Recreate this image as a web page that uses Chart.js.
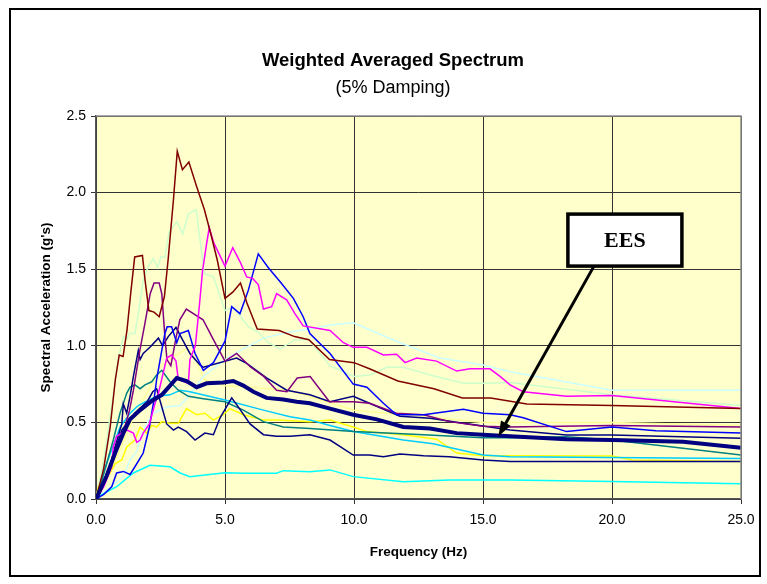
<!DOCTYPE html>
<html>
<head>
<meta charset="utf-8">
<title>Weighted Averaged Spectrum</title>
<script src="https://cdn.jsdelivr.net/npm/chart.js@4.4.1/dist/chart.umd.min.js"></script>
<style>
    html, body { margin: 0; padding: 0; background: #fff; }
    #wrap { width: 767px; height: 584px; }
</style>
</head>
<body>
<div id="wrap"><canvas id="spectrum" width="767" height="584"></canvas></div>
<script>
// frequency (Hz) / spectral acceleration (g), one pair per record
const eesF = [0, 0.41, 0.74, 1.06, 1.32, 1.71, 2.16, 2.55, 2.87, 3.13, 3.51, 3.9, 4.29, 4.93, 5.32, 5.71, 6.1, 6.61, 7.26, 7.78, 8.29, 9.07, 9.97, 10.88, 11.91, 12.95, 13.98, 15.0, 16.05, 18.24, 20.0, 22.76, 25.0];
const eesA = [0, 0.15, 0.30, 0.43, 0.52, 0.58, 0.64, 0.68, 0.74, 0.79, 0.77, 0.73, 0.755, 0.76, 0.77, 0.74, 0.70, 0.66, 0.65, 0.635, 0.625, 0.59, 0.55, 0.52, 0.47, 0.46, 0.43, 0.42, 0.41, 0.39, 0.385, 0.374, 0.335];

const darkRedF = [0, 0.3, 0.55, 0.75, 0.9, 1.05, 1.2, 1.35, 1.5, 1.8, 1.9, 2.05, 2.25, 2.45, 2.65, 2.8, 3.0, 3.15, 3.35, 3.6, 3.9, 4.2, 4.45, 4.7, 5.0, 5.3, 5.6, 5.85, 6.25, 7.1, 7.7, 8.25, 9.05, 10.0, 10.6, 11.7, 13.1, 14.2, 15.3, 16.7, 20.0, 25.0];
const darkRedA = [0, 0.2, 0.47, 0.78, 0.94, 0.93, 1.10, 1.35, 1.58, 1.59, 1.43, 1.23, 1.22, 1.19, 1.32, 1.57, 1.95, 2.27, 2.15, 2.20, 2.04, 1.89, 1.73, 1.56, 1.31, 1.35, 1.41, 1.28, 1.11, 1.10, 1.06, 1.04, 0.91, 0.89, 0.85, 0.77, 0.72, 0.66, 0.66, 0.62, 0.61, 0.59];

const mintF = [0, 0.3, 0.6, 0.86, 1.06, 1.19, 1.29, 1.51, 1.68, 1.83, 2.03, 2.22, 2.39, 2.51, 2.67, 2.84, 3.13, 3.36, 3.58, 3.88, 4.2, 4.55, 5.0, 5.32, 5.65, 5.9, 6.29, 6.68, 7.13, 7.71, 8.25, 9.07, 10.0, 10.62, 11.27, 11.91, 12.95, 14.24, 15.0, 16.05, 20.0, 25.0];
const mintA = [0, 0.25, 0.6, 0.91, 1.06, 1.04, 1.08, 1.08, 1.25, 1.43, 1.52, 1.57, 1.51, 1.58, 1.58, 1.745, 1.81, 1.73, 1.86, 1.89, 1.47, 1.45, 1.23, 1.25, 1.18, 1.125, 1.09, 1.02, 0.98, 1.04, 1.04, 0.87, 0.80, 0.81, 0.86, 0.86, 0.81, 0.755, 0.755, 0.76, 0.68, 0.61];

const magentaF = [0, 0.3, 0.61, 0.67, 0.8, 1.2, 1.45, 1.58, 1.71, 1.83, 2.07, 2.29, 2.42, 2.74, 2.93, 3.1, 3.19, 3.58, 3.64, 3.85, 4.0, 4.13, 4.29, 4.39, 4.57, 5.0, 5.3, 5.58, 5.84, 6.07, 6.29, 6.49, 6.81, 7.0, 7.39, 7.71, 8.03, 9.07, 9.59, 9.97, 10.5, 11.14, 11.65, 11.98, 12.43, 13.2, 13.98, 14.5, 15.27, 15.66, 16.05, 16.56, 18.24, 20.0, 25.0];
const magentaA = [0, 0.08, 0.21, 0.34, 0.41, 0.45, 0.43, 0.37, 0.385, 0.43, 0.49, 0.625, 0.69, 0.92, 0.94, 0.90, 0.78, 0.755, 0.91, 1.0, 1.25, 1.49, 1.67, 1.77, 1.67, 1.52, 1.64, 1.55, 1.45, 1.44, 1.40, 1.24, 1.255, 1.34, 1.30, 1.21, 1.13, 1.10, 1.02, 0.99, 0.99, 0.94, 0.945, 0.89, 0.92, 0.90, 0.835, 0.85, 0.85, 0.80, 0.745, 0.70, 0.67, 0.675, 0.59];

const blueF = [0, 0.3, 0.61, 0.8, 1.06, 1.32, 1.58, 1.83, 2.07, 2.25, 2.35, 2.55, 2.67, 2.76, 2.93, 3.13, 3.26, 3.58, 3.84, 4.16, 4.55, 5.0, 5.26, 5.58, 5.9, 6.29, 6.68, 7.13, 7.65, 8.03, 8.29, 9.07, 9.97, 10.5, 11.14, 11.65, 12.7, 14.24, 15.0, 16.05, 16.56, 18.24, 20.0, 21.7, 25.0];
const blueA = [0, 0.03, 0.08, 0.17, 0.18, 0.16, 0.23, 0.30, 0.47, 0.65, 0.78, 0.97, 1.08, 1.125, 1.125, 1.02, 1.08, 1.10, 0.95, 0.84, 0.89, 1.03, 1.255, 1.21, 1.36, 1.60, 1.51, 1.42, 1.31, 1.19, 1.08, 0.95, 0.75, 0.73, 0.625, 0.55, 0.55, 0.585, 0.56, 0.55, 0.53, 0.44, 0.47, 0.446, 0.43];

const purpleF = [0, 0.5, 1.0, 1.3, 1.45, 1.7, 1.9, 2.1, 2.25, 2.45, 2.55, 2.67, 2.75, 2.9, 3.1, 3.25, 3.5, 4.15, 4.55, 5.0, 5.45, 6.0, 6.5, 7.0, 7.4, 7.8, 8.3, 9.05, 10.0, 10.6, 11.65, 12.7, 13.7, 15.0, 16.0, 20.0, 25.0];
const purpleA = [0, 0.18, 0.40, 0.58, 0.71, 0.97, 1.15, 1.34, 1.41, 1.41, 1.34, 1.06, 0.91, 0.87, 1.05, 1.17, 1.24, 1.17, 1.04, 0.90, 0.95, 0.86, 0.80, 0.71, 0.70, 0.79, 0.80, 0.635, 0.635, 0.625, 0.56, 0.55, 0.505, 0.475, 0.47, 0.48, 0.47];

const navyF = [0, 0.16, 0.48, 0.67, 1.0, 1.06, 1.19, 1.32, 1.45, 1.64, 1.71, 1.83, 2.09, 2.42, 2.58, 2.8, 3.1, 3.32, 3.64, 4.03, 4.16, 5.45, 5.84, 6.61, 7.39, 8.29, 9.07, 9.97, 10.6, 11.78, 12.95, 14.24, 15.0, 16.05, 18.24, 20.0, 25.0];
const navyA = [0, 0.04, 0.17, 0.30, 0.49, 0.62, 0.56, 0.67, 0.80, 0.97, 0.91, 0.95, 0.99, 1.05, 1.0, 1.06, 1.12, 1.05, 0.95, 0.875, 0.86, 0.92, 0.885, 0.79, 0.71, 0.68, 0.635, 0.67, 0.625, 0.54, 0.527, 0.495, 0.477, 0.45, 0.418, 0.418, 0.396];

const navyLowF = [0, 0.5, 1.0, 1.5, 2.0, 2.2, 2.35, 2.74, 3.0, 3.19, 3.51, 3.84, 4.22, 4.55, 4.81, 5.26, 5.52, 5.97, 6.49, 7.0, 7.52, 8.29, 9.07, 9.97, 10.6, 11.14, 11.78, 12.7, 13.7, 15.0, 16.05, 20.0, 25.0];
const navyLowA = [0, 0.2, 0.45, 0.56, 0.64, 0.70, 0.72, 0.49, 0.45, 0.47, 0.44, 0.385, 0.43, 0.42, 0.53, 0.66, 0.60, 0.49, 0.42, 0.41, 0.41, 0.42, 0.385, 0.287, 0.287, 0.276, 0.294, 0.283, 0.276, 0.255, 0.245, 0.245, 0.245];

const tealF = [0, 0.16, 0.67, 0.93, 1.19, 1.32, 1.51, 1.71, 1.9, 2.16, 2.35, 2.55, 2.87, 3.19, 3.58, 4.16, 5.0, 5.71, 6.49, 7.26, 8.29, 10.0, 12.7, 15.0, 16.05, 18.24, 20.0, 25.0];
const tealA = [0, 0.08, 0.385, 0.56, 0.69, 0.73, 0.745, 0.72, 0.745, 0.765, 0.81, 0.84, 0.765, 0.71, 0.67, 0.655, 0.635, 0.58, 0.505, 0.47, 0.46, 0.44, 0.42, 0.40, 0.40, 0.407, 0.385, 0.287];

const skyF = [0, 0.28, 0.93, 1.32, 1.64, 2.09, 2.35, 2.87, 3.26, 3.64, 5.0, 6.49, 7.52, 8.29, 9.07, 9.97, 11.91, 13.07, 15.0, 16.05, 25.0];
const skyA = [0, 0.17, 0.47, 0.56, 0.61, 0.65, 0.67, 0.68, 0.71, 0.70, 0.646, 0.58, 0.537, 0.515, 0.48, 0.44, 0.385, 0.36, 0.287, 0.276, 0.265];

const cyanF = [0, 0.09, 0.8, 1.19, 1.45, 2.09, 2.87, 3.26, 3.64, 4.22, 5.0, 5.71, 7.0, 7.26, 8.29, 9.07, 9.97, 11.91, 13.7, 16.05, 20.0, 25.0];
const cyanA = [0, 0.015, 0.08, 0.135, 0.17, 0.22, 0.21, 0.17, 0.145, 0.157, 0.172, 0.168, 0.168, 0.185, 0.178, 0.19, 0.146, 0.113, 0.124, 0.124, 0.115, 0.10];

const yellowF = [0, 0.09, 0.54, 0.74, 1.0, 1.19, 1.51, 1.71, 1.96, 2.16, 2.35, 2.55, 2.87, 3.19, 3.51, 3.9, 4.22, 4.55, 4.93, 5.19, 5.71, 6.49, 7.0, 8.29, 9.07, 9.97, 10.5, 11.91, 13.2, 13.98, 15.0, 16.05, 20.0, 20.8, 25.0];
const yellowA = [0, 0.08, 0.17, 0.23, 0.255, 0.34, 0.385, 0.47, 0.43, 0.48, 0.47, 0.505, 0.495, 0.495, 0.59, 0.55, 0.56, 0.515, 0.55, 0.59, 0.55, 0.515, 0.515, 0.505, 0.515, 0.47, 0.44, 0.42, 0.39, 0.30, 0.283, 0.283, 0.28, 0.255, 0.245];

const paleYellowF = [0, 0.5, 1.0, 1.5, 2.0, 2.5, 2.75, 3.1, 3.5, 3.8, 4.2, 5.0, 6.0, 7.5, 10.0, 12.0, 15.0, 20.0, 25.0];
const paleYellowA = [0, 0.15, 0.35, 0.55, 0.70, 0.86, 0.90, 0.94, 0.98, 0.93, 0.78, 0.74, 0.73, 0.71, 0.58, 0.55, 0.50, 0.50, 0.48];

const paleCyanF = [0, 0.28, 1.06, 1.32, 1.58, 1.83, 2.22, 2.74, 3.26, 3.64, 4.16, 5.0, 5.71, 6.49, 7.52, 8.29, 9.07, 9.97, 11.78, 13.33, 15.0, 16.05, 20.0, 25.0];
const paleCyanA = [0, 0.04, 0.146, 0.255, 0.31, 0.45, 0.56, 0.60, 0.61, 0.68, 0.80, 0.91, 0.98, 1.05, 1.09, 1.11, 1.135, 1.15, 1.02, 0.92, 0.875, 0.83, 0.71, 0.71];

const xTicks = ["0.0", "5.0", "10.0", "15.0", "20.0", "25.0"];
const yTicks = ["0.0", "0.5", "1.0", "1.5", "2.0", "2.5"];

const chartTitle = "Weighted Averaged Spectrum";
const chartSubtitle = "(5% Damping)";

// EES callout, in data units
const calloutLabel = "EES";
const calloutCenter = [20.5, 1.69];
const arrowFrom = [19.3, 1.52];
const arrowTo = [15.6, 0.41];

const SANS = "'Liberation Sans', Arial, sans-serif";

function toPoints(fs, as) {
    return fs.map((f, i) => ({ x: f, y: as[i] }));
}

function thin(fs, as, color) {
    return {
        data: toPoints(fs, as),
        borderColor: color,
        borderWidth: 1.5,
        pointRadius: 0,
        showLine: true,
        tension: 0,
    };
}

const framePlugin = {
    id: "framePlugin",
    beforeDraw(chart) {
        const { ctx, chartArea: a } = chart;
        ctx.save();
        ctx.fillStyle = "#ffffff";
        ctx.fillRect(0, 0, chart.width, chart.height);
        ctx.fillStyle = "#ffffcc";
        ctx.fillRect(a.left, a.top, a.right - a.left, a.bottom - a.top);
        ctx.strokeStyle = "#000000";
        ctx.lineWidth = 2;
        ctx.strokeRect(10, 9, 750, 567);

        // headings
        ctx.fillStyle = "#000";
        ctx.textAlign = "center";
        ctx.textBaseline = "middle";
        ctx.font = "bold 18.5px " + SANS;
        ctx.fillText(chartTitle, 393, 61);
        ctx.font = "18px " + SANS;
        ctx.fillText(chartSubtitle, 393, 88);
        ctx.restore();
    },
    afterDraw(chart) {
        const { ctx, chartArea: a, scales } = chart;
        const sx = scales.x;
        const sy = scales.y;
        ctx.save();
        ctx.strokeStyle = "#8c8c8c";
        ctx.lineWidth = 1.5;
        ctx.beginPath();
        ctx.moveTo(a.left, a.top);
        ctx.lineTo(a.right, a.top);
        ctx.lineTo(a.right, a.bottom);
        ctx.stroke();

        // arrow
        const x0 = sx.getPixelForValue(arrowFrom[0]);
        const y0 = sy.getPixelForValue(arrowFrom[1]);
        const x1 = sx.getPixelForValue(arrowTo[0]);
        const y1 = sy.getPixelForValue(arrowTo[1]);
        const ang = Math.atan2(y1 - y0, x1 - x0);
        const head = 15;
        ctx.strokeStyle = "#000";
        ctx.lineWidth = 3;
        ctx.beginPath();
        ctx.moveTo(x0, y0);
        ctx.lineTo(x1 - Math.cos(ang) * head * 0.8, y1 - Math.sin(ang) * head * 0.8);
        ctx.stroke();
        ctx.fillStyle = "#000";
        ctx.beginPath();
        ctx.moveTo(x1, y1);
        ctx.lineTo(x1 - Math.cos(ang) * head + Math.sin(ang) * 5.5, y1 - Math.sin(ang) * head - Math.cos(ang) * 5.5);
        ctx.lineTo(x1 - Math.cos(ang) * head - Math.sin(ang) * 5.5, y1 - Math.sin(ang) * head + Math.cos(ang) * 5.5);
        ctx.closePath();
        ctx.fill();

        // label box
        const cx = sx.getPixelForValue(calloutCenter[0]);
        const cy = sy.getPixelForValue(calloutCenter[1]);
        const w = 114;
        const h = 52;
        ctx.fillStyle = "#ffffff";
        ctx.fillRect(cx - w / 2, cy - h / 2, w, h);
        ctx.lineWidth = 3.5;
        ctx.strokeRect(cx - w / 2, cy - h / 2, w, h);
        ctx.fillStyle = "#000";
        ctx.font = "bold 22px 'Liberation Serif', 'Times New Roman', serif";
        ctx.textAlign = "center";
        ctx.textBaseline = "middle";
        ctx.fillText(calloutLabel, cx, cy + 1);
        ctx.restore();
    },
};

const eesSet = {
    data: toPoints(eesF, eesA),
    borderColor: "#000080",
    borderWidth: 4,
    pointRadius: 0,
    showLine: true,
    tension: 0,
};

const datasets = [
    eesSet,
    thin(darkRedF, darkRedA, "#800000"),
    thin(magentaF, magentaA, "#ff00ff"),
    thin(blueF, blueA, "#0000ff"),
    thin(purpleF, purpleA, "#800080"),
    thin(navyF, navyA, "#000080"),
    thin(navyLowF, navyLowA, "#000080"),
    thin(tealF, tealA, "#008080"),
    thin(skyF, skyA, "#00ccff"),
    thin(yellowF, yellowA, "#ffff00"),
    thin(cyanF, cyanA, "#00ffff"),
    thin(mintF, mintA, "#ccffcc"),
    thin(paleCyanF, paleCyanA, "#ccffff"),
    thin(paleYellowF, paleYellowA, "#ffff99"),
];

const tickFont = { family: SANS, size: 14 };
const axisTitleFont = { family: SANS, size: 13.5, weight: "bold" };

new Chart(document.getElementById("spectrum"), {
    type: "scatter",
    data: { datasets },
    options: {
        responsive: false,
        animation: false,
        events: [],
        layout: { padding: { left: 10, right: 26, top: 116, bottom: 22 } },
        plugins: {
            legend: { display: false },
            tooltip: { enabled: false },
            title: { display: false },
        },
        scales: {
            x: {
                type: "linear",
                min: 0,
                max: 25,
                afterFit(scale) { scale.height = 63; },
                ticks: {
                    stepSize: 5,
                    color: "#000",
                    font: tickFont,
                    padding: 8,
                    maxRotation: 0,
                    callback: (v, i) => xTicks[i],
                },
                grid: { color: "#333", lineWidth: 1, tickLength: 5, tickColor: "#333" },
                border: { color: "#555", width: 1.5 },
                title: {
                    display: true,
                    text: "Frequency (Hz)",
                    color: "#000",
                    font: axisTitleFont,
                    padding: { top: 0, bottom: 2 },
                },
            },
            y: {
                min: 0,
                max: 2.5,
                afterFit(scale) { scale.width = 86; },
                ticks: {
                    stepSize: 0.5,
                    color: "#000",
                    font: tickFont,
                    padding: 5,
                    callback: (v, i) => yTicks[i],
                },
                grid: { color: "#333", lineWidth: 1, tickLength: 5, tickColor: "#333" },
                border: { color: "#555", width: 1.5 },
                title: {
                    display: true,
                    text: "Spectral Acceleration (g's)",
                    color: "#000",
                    font: axisTitleFont,
                    padding: { top: 28, bottom: 0 },
                },
            },
        },
    },
    plugins: [framePlugin],
});
</script>
</body>
</html>
